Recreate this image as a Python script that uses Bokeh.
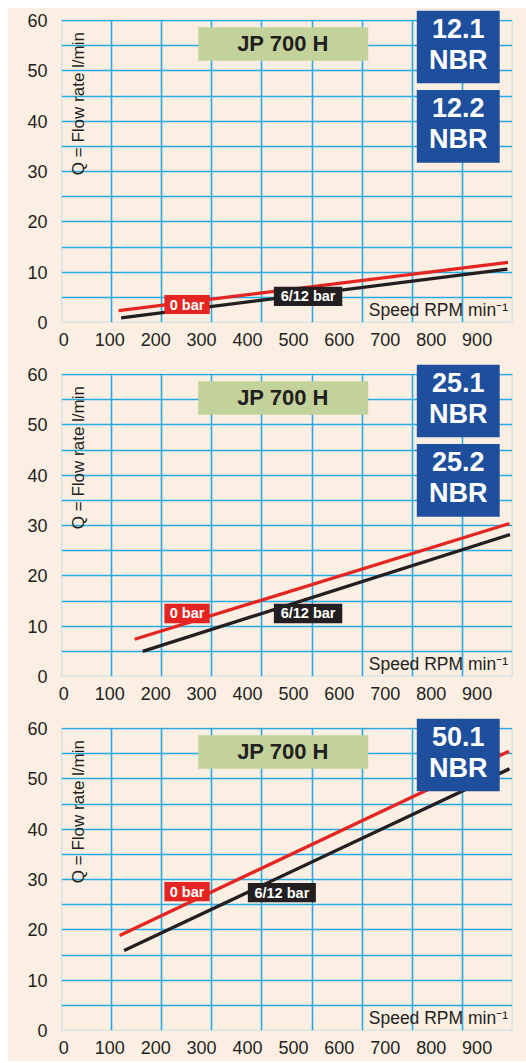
from bokeh.plotting import figure
from bokeh.layouts import column
from bokeh.models import Range1d, LinearAxis, FixedTicker, BoxAnnotation, Label
from bokeh.embed import file_html
from bokeh.resources import INLINE
from bokeh.core.properties import value

# ---------------- data ----------------
rpm_ticks = [0, 100, 200, 300, 400, 500, 600, 700, 800, 900]
flow_ticks = [0, 10, 20, 30, 40, 50, 60]
flow_grid = [0, 5, 10, 15, 20, 25, 30, 35, 40, 45, 50, 55, 60]
model_name = "JP 700 H"
series_names = ["0 bar", "6/12 bar"]
pump_codes = [["12.1", "12.2"], ["25.1", "25.2"], ["50.1"]]
elastomer = "NBR"

# panel 1 (12.1 / 12.2)
p1_rpm_0bar = [114, 891]
p1_flow_0bar = [2.35, 11.95]
p1_rpm_612bar = [119, 890]
p1_flow_612bar = [0.9, 10.6]
# panel 2 (25.1 / 25.2)
p2_rpm_0bar = [146, 894]
p2_flow_0bar = [7.4, 30.4]
p2_rpm_612bar = [162, 895]
p2_flow_612bar = [5.0, 28.2]
# panel 3 (50.1)
p3_rpm_0bar = [116, 893]
p3_flow_0bar = [18.9, 55.5]
p3_rpm_612bar = [125, 894]
p3_flow_612bar = [15.9, 52.0]

# ---------------- styles ----------------
CREAM = "#FBEEE3"
GRID = "#29ABE2"
RED = "#E42521"
BLACK = "#231F20"
GREEN = "#C3D29B"
NAVY = "#1E4F9D"
FONT = value("Liberation Sans")
X_MAX = rpm_ticks[-1]
Y_MAX = flow_ticks[-1]
Y_TOP = 62.0   # room above the chart for the pump code boxes


def make_panel(rpm0, flow0, rpm6, flow6, codes, height, btop, bbottom, lab_y):
    p = figure(width=518, height=height, output_backend="svg", toolbar_location=None,
               x_range=Range1d(0, X_MAX), y_range=Range1d(0, Y_TOP),
               x_axis_location=None, y_axis_location="left",
               min_border_left=53, min_border_right=14,
               min_border_top=btop, min_border_bottom=bbottom,
               background_fill_color=CREAM, border_fill_color=CREAM)
    p.outline_line_color = None
    p.xgrid.ticker = FixedTicker(ticks=rpm_ticks)
    p.ygrid.ticker = FixedTicker(ticks=flow_grid)
    for g in (p.xgrid, p.ygrid):
        g.grid_line_color = GRID
        g.grid_line_width = 1.6
        g.grid_line_alpha = 1.0

    ya = p.yaxis[0]
    ya.ticker = FixedTicker(ticks=flow_ticks)
    ya.axis_line_color = None
    ya.major_tick_line_color = None
    ya.minor_tick_line_color = None
    ya.major_label_standoff = 8
    ya.major_label_text_font = "Liberation Sans"
    ya.major_label_text_font_size = "18px"
    ya.major_label_text_color = BLACK

    # tick labels as printed (slightly offset from the grid)
    p.extra_x_ranges = {"lab": Range1d(-5, 977)}
    xa = LinearAxis(x_range_name="lab", ticker=FixedTicker(ticks=rpm_ticks))
    xa.axis_line_color = None
    xa.major_tick_line_color = None
    xa.minor_tick_line_color = None
    xa.major_label_standoff = 4
    xa.major_label_text_font = "Liberation Sans"
    xa.major_label_text_font_size = "18px"
    xa.major_label_text_color = BLACK
    p.add_layout(xa, "below")

    # hide grid above the chart's top edge
    p.quad(left=[-50], right=[X_MAX + 50], bottom=[Y_MAX + 0.17], top=[Y_TOP + 1],
           fill_color=CREAM, line_color=None)

    # curves
    p.line(rpm0, flow0, line_color=RED, line_width=3.3, line_cap="butt")
    p.line(rpm6, flow6, line_color=BLACK, line_width=3.3, line_cap="butt")

    # series tags
    p.quad(left=[205.4, lab_y[2]], right=[295.8, lab_y[3]],
           bottom=[lab_y[0], lab_y[4]], top=[lab_y[1], lab_y[5]],
           fill_color=[RED, BLACK], line_color=None)
    p.text(x=[250.6, (lab_y[2] + lab_y[3]) / 2],
           y=[(lab_y[0] + lab_y[1]) / 2, (lab_y[4] + lab_y[5]) / 2],
           text=series_names, text_font=FONT, text_font_style="bold",
           text_font_size="14.5px", text_color="white",
           text_align="center", text_baseline="middle")

    # model title
    p.quad(left=[272.8], right=[612], bottom=[52.0], top=[58.65],
           fill_color=GREEN, line_color=None)
    p.text(x=[442], y=[55.35], text=[model_name], text_font=FONT,
           text_font_style="bold", text_font_size="22px", text_color=BLACK,
           text_align="center", text_baseline="middle")

    # axis titles
    p.text(x=[34], y=[43.5], text=["Q = Flow rate l/min"], angle=1.5708,
           text_font=FONT, text_font_size="17px", text_color=BLACK,
           text_align="center", text_baseline="middle")
    p.text(x=[891], y=[2.5], text=["Speed RPM min\u207b\u00b9"],
           text_font=FONT, text_font_size="17.5px", text_color=BLACK,
           text_align="right", text_baseline="middle")

    # chart border
    p.add_layout(BoxAnnotation(left=0, right=X_MAX, bottom=0, top=Y_MAX,
                               fill_color=None, fill_alpha=0, line_color=GRID,
                               line_width=1.6, level="overlay"))

    # pump code boxes
    tops = [62.0, 46.2]
    for i, code in enumerate(codes):
        top = tops[i]
        p.add_layout(BoxAnnotation(left=709, right=874.5, top=top, bottom=top - 14.45,
                                   fill_color=NAVY, fill_alpha=1.0,
                                   line_color=None, level="overlay"))
        p.add_layout(Label(x=791.8, y=top - 3.55, text=code, text_font="Liberation Sans",
                           text_font_style="bold", text_font_size="27px",
                           text_color="white", text_align="center",
                           text_baseline="middle", level="overlay"))
        p.add_layout(Label(x=791.8, y=top - 9.8, text=elastomer, text_font="Liberation Sans",
                           text_font_style="bold", text_font_size="27px",
                           text_color="white", text_align="center",
                           text_baseline="middle", level="overlay"))
    return p


p1 = make_panel(p1_rpm_0bar, p1_flow_0bar, p1_rpm_612bar, p1_flow_612bar, pump_codes[0],
                354, 2, 40, [1.67, 5.45, 423.8, 560.3, 3.26, 7.1])
p2 = make_panel(p2_rpm_0bar, p2_flow_0bar, p2_rpm_612bar, p2_flow_612bar, pump_codes[1],
                354, 2, 40, [10.6, 14.46, 423.8, 560.3, 10.6, 14.46])
p3 = make_panel(p3_rpm_0bar, p3_flow_0bar, p3_rpm_612bar, p3_flow_612bar, pump_codes[2],
                345, 2, 31, [25.7, 29.5, 371.9, 507.6, 25.5, 29.3])

layout = column(p1, p2, p3, spacing=0, margin=(8, 0, 0, 8),
                styles={"background-color": CREAM})
open("out.html", "w").write(file_html(layout, INLINE))
